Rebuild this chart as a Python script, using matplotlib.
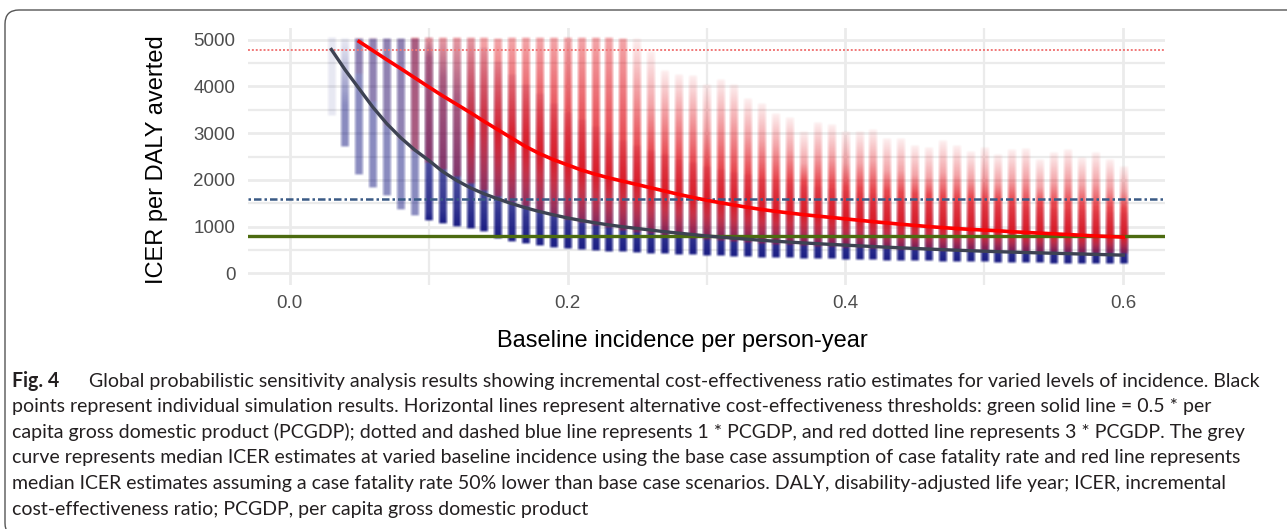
import numpy as np
import matplotlib.pyplot as plt
from matplotlib.colors import to_rgb
from matplotlib.patches import FancyBboxPatch
from matplotlib.transforms import IdentityTransform

# incidence grid of the simulations (0.01 steps)
blue_x = np.arange(3, 61) / 100          # base case fatality rate
red_x = np.arange(5, 61) / 100           # case fatality rate 50% lower

# blue cloud (base case): bottom, top of dense band, top of medium band, faint top
blue_lo = [3400, 2750, 2150, 1870, 1700, 1400, 1270, 1150, 1100, 1040, 990, 930,
           780, 700, 660, 620, 590, 560, 540, 520, 500, 485,
           470, 455, 443, 431, 420, 410, 400, 390, 381, 372,
           364, 356, 349, 342, 335, 328, 322, 316, 310, 304,
           298, 292, 287, 282, 277, 272, 267, 262, 257, 252,
           248, 244, 240, 236, 232, 228]
blue_dark = [3400, 2750, 2150, 1870, 1700, 1400, 1270,
             1300, 1350, 1400, 1380, 1350, 1300, 1250, 1200, 1150, 1110, 1070, 1035, 1000, 970, 940, 910, 885,
             860, 840, 820, 800,
             780, 762, 745, 728, 712, 697, 683, 670, 657, 645, 633, 622, 611, 601, 591, 582, 573, 565, 557, 549,
             541, 534, 527, 520, 514, 508, 502, 496, 490, 485]
blue_mid = [3400, 3600, 5000, 5000, 5000, 5000, 5000,
            4600, 4200, 3800, 3400, 3000, 2700, 2450, 2250, 2100, 1980, 1870, 1780, 1700, 1630, 1560, 1500,
            1400, 1355, 1310, 1270, 1235, 1200, 1170, 1140, 1110, 1085, 1060, 1037, 1015, 995, 975, 956, 938,
            920, 903, 887, 871, 856, 842, 828, 815, 802, 790, 778, 767, 756, 745, 735, 725, 715, 706]
blue_top = [5000, 5000, 5000, 5000, 5000, 5000, 5000, 5000, 5000, 5000, 5000, 4800, 4500, 4200, 4000, 3800, 3600,
            3400, 3250, 3100, 2950, 2800, 2700, 2600, 2500, 2400, 2320, 2250, 2180, 2120, 2060, 2000, 1950, 1900,
            1850, 1810, 1770, 1730, 1700, 1670, 1640, 1610, 1580, 1550, 1520, 1500, 1480, 1460, 1440, 1420, 1400,
            1380, 1360, 1340, 1320, 1300, 1280, 1260]

# red cloud (lower case fatality rate)
red_lo = [4300, 3700, 3200, 2900, 2650, 2400, 2250, 2100, 1950, 1800, 1680, 1560, 1450, 1350, 1260, 1180, 1110,
          1050, 1000, 950, 910, 870, 840, 810, 780, 755, 730, 710, 690, 670, 655, 640, 625, 610, 598, 585, 575,
          565, 555, 545, 537, 529, 521, 514, 507, 500, 494, 488, 482, 477, 472, 467, 462, 458, 454, 450]
red_dark = [4300, 3700, 3200, 2900, 2650, 2400, 2250, 2100,
            3000, 3200, 3300, 3300, 3300, 3250, 3200, 3100,
            3000, 2900, 2800, 2700, 2620, 2540, 2460, 2390, 2320, 2250,
            2200, 2150, 2100, 2060, 2020, 1980, 1940, 1900, 1870, 1840,
            1810, 1780, 1750, 1720, 1690, 1660, 1640, 1620, 1600, 1580,
            1560, 1540, 1520, 1500, 1480, 1460, 1440, 1420, 1400, 1380]
red_mid = [4300, 3700, 3200, 2900,
           5000, 5000, 5000, 5000, 5000, 5000, 5000, 5000, 5000, 5000, 5000, 5000, 5000, 5000, 5000, 5000,
           4000, 3600, 3500, 3450, 3400, 3100, 3250, 3200, 2950, 2850,
           2750, 2650, 2350, 2550, 2500, 2350, 2350, 2400, 2200, 2200,
           2100, 2050, 2150, 2100, 2000, 2050, 1950, 2000, 2050, 1850,
           1950, 2000, 1900, 1950, 1850, 1750]
red_top = [5000, 5000, 5000, 5000, 5000, 5000, 5000, 5000, 5000, 5000, 5000, 5000, 5000, 5000, 5000, 5000, 5000,
           5000, 5000, 5000, 5000, 4700, 4300, 4200, 4200, 4000, 4100, 4000, 3700, 3600, 3400, 3300, 3000, 3200,
           3150, 3000, 3000, 3050, 2850, 2850, 2700, 2650, 2800, 2700, 2550, 2650, 2500, 2600, 2650, 2400, 2550,
           2600, 2450, 2550, 2400, 2250]

# median ICER curves
grey_median = [4790, 4350, 3950, 3550, 3200, 2900, 2640, 2420, 2180, 1990, 1830, 1700, 1590, 1490, 1400, 1320,
               1250, 1185, 1130, 1080, 1035, 995, 960, 925, 890, 860, 830, 800, 775, 750, 728, 706, 686, 668, 650,
               634, 618, 603, 588, 573, 559, 545, 532, 519, 507, 495, 484, 473, 463, 454, 445, 437, 429, 421, 413,
               405, 397, 389]
red_median = [4960, 4765, 4570, 4380, 4185, 3990, 3800, 3620, 3440, 3250, 3070, 2890, 2710, 2560, 2430, 2320, 2210,
              2120, 2040, 1970, 1900, 1830, 1760, 1690, 1625, 1565, 1510, 1460, 1410, 1365, 1325, 1290, 1255, 1225,
              1195, 1165, 1135, 1105, 1078, 1050, 1025, 1000, 978, 958, 940, 925, 910, 890, 875, 860, 845, 830, 815,
              800, 788, 775]

pcgdp = 1593
thresholds = [0.5 * pcgdp, 1 * pcgdp, 3 * pcgdp]

caption = [
    "Global probabilistic sensitivity analysis results showing incremental cost-effectiveness ratio estimates for varied levels of incidence. Black",
    "points represent individual simulation results. Horizontal lines represent alternative cost-effectiveness thresholds: green solid line = 0.5 * per",
    "capita gross domestic product (PCGDP); dotted and dashed blue line represents 1 * PCGDP, and red dotted line represents 3 * PCGDP. The grey",
    "curve represents median ICER estimates at varied baseline incidence using the base case assumption of case fatality rate and red line represents",
    "median ICER estimates assuming a case fatality rate 50% lower than base case scenarios. DALY, disability-adjusted life year; ICER, incremental",
    "cost-effectiveness ratio; PCGDP, per capita gross domestic product",
]

W, H = 1287, 529
fig = plt.figure(figsize=(W / 100, H / 100), dpi=100)
L, R, T, B = 248, 1165, 28, 285
ax = fig.add_axes([L / W, 1 - B / H, (R - L) / W, (B - T) / H])
XLIM, YLIM = (-0.03, 0.63), (-250, 5250)

ax.set_xticks([0, 0.2, 0.4, 0.6])
ax.set_xticks([0.1, 0.3, 0.5], minor=True)
ax.set_yticks(range(0, 5001, 1000))
ax.set_yticks(range(500, 5000, 1000), minor=True)
ax.set_xticklabels(["0.0", "0.2", "0.4", "0.6"])
ax.grid(which="major", color="#EBEBEB", lw=2.0, zorder=0)
ax.grid(which="minor", color="#EBEBEB", lw=1.6, zorder=0)
ax.set_axisbelow(True)
for s in ax.spines.values():
    s.set_visible(False)
ax.tick_params(which="both", length=0)
ax.tick_params(axis="y", pad=9, labelsize=13.5, labelcolor="#4D4D4D")
ax.tick_params(axis="x", pad=7, labelsize=13.5, labelcolor="#4D4D4D")
for lab in ax.get_xticklabels() + ax.get_yticklabels():
    lab.set_fontfamily("Liberation Sans")

half_w = 4.8 * (XLIM[1] - XLIM[0]) / (R - L)   # half column width, ~5 px
side = np.array([0.3, 0.75, 1, 1, 1, 1, 0.75, 0.3])


def column(x, knots, color, z):
    # one stack of semi-transparent points, drawn as a vertical fade through the knots
    ky = [k[0] for k in knots]
    ka = [k[1] for k in knots]
    ys = np.linspace(ky[0], ky[-1], 400)
    alpha = np.interp(ys, ky, ka)
    img = np.zeros((len(ys), len(side), 4))
    img[..., :3] = to_rgb(color)
    img[..., 3] = alpha[:, None] * side[None, :]
    ax.imshow(img, extent=(x - half_w, x + half_w, ky[0], ky[-1]), origin="lower",
              aspect="auto", interpolation="bilinear", zorder=z)


def keep_rising(lo, levels):
    out = []
    last = lo
    for y, a in levels:
        if y > last + 1:
            out.append((y, a))
            last = y
    return out


pad = 60
for i, x in enumerate(blue_x):
    lo = blue_lo[i]
    kept = keep_rising(lo, [(blue_dark[i], 0.88), (blue_mid[i], 0.5), (blue_top[i], 0.1)])
    a_lo = 0.97 if blue_dark[i] > lo else kept[0][1]
    column(x, [(lo - pad, 0), (lo, a_lo)] + kept + [(kept[-1][0] + pad, 0)], "#141780", 2)

for i, x in enumerate(red_x):
    lo = red_lo[i]
    levels = [(red_dark[i], 0.78), (red_mid[i], 0.38), (red_top[i], 0.08)]
    if lo < red_median[i] < red_dark[i]:
        levels.insert(0, (red_median[i], 0.92))
    kept = keep_rising(lo, levels)
    a_lo = min(0.45, kept[0][1])
    column(x, [(lo - pad, 0), (lo, a_lo)] + kept + [(kept[-1][0] + pad, 0)], "#E0101A", 2.5)

ax.axhline(thresholds[2], color="#F07878", lw=1.4, ls=(0, (1, 1)), zorder=3)
ax.axhline(thresholds[1], color="#3A5A85", lw=1.8, ls=(0, (1, 1.2, 3, 1.2)), zorder=3)
ax.axhline(thresholds[0], color="#4C6B10", lw=2.4, zorder=3)

ax.plot(blue_x, grey_median, color="#3E4353", lw=2.4, zorder=4)
ax.plot(red_x, red_median, color="#FF0000", lw=2.6, zorder=5)
ax.set_xlim(*XLIM)
ax.set_ylim(*YLIM)

fig.text(157 / W, 1 - 160 / H, "ICER per DALY averted", rotation=90, ha="center", va="center",
         fontsize=17, family="Liberation Sans")
fig.text(682 / W, 1 - 341 / H, "Baseline incidence per person-year", ha="center", va="center",
         fontsize=17, family="Liberation Sans")

# caption, sized to fill the same width as in the figure
r = fig.canvas.get_renderer()
probe = fig.text(0, 0, caption[3], fontsize=10, family="Lato")
fs = 10 * (1244 - 12) / probe.get_window_extent(r).width
probe.remove()
for i, line in enumerate(caption):
    y = 1 - (381 + 25.6 * i) / H
    x0 = 89 if i == 0 else 12
    fig.text(x0 / W, y, line, fontsize=fs, family="Lato", va="center", color="#231F20")
fig.text(12 / W, 1 - 381 / H, "Fig. 4", fontsize=fs, family="Lato", weight="bold", va="center", color="#231F20")

frame = FancyBboxPatch((5, -8), 1400, H - 10 + 8, boxstyle="round,pad=0,rounding_size=14",
                       transform=IdentityTransform(), fill=False, ec="#555555", lw=1.0)
fig.add_artist(frame)

fig.savefig("out.png", dpi=100)
